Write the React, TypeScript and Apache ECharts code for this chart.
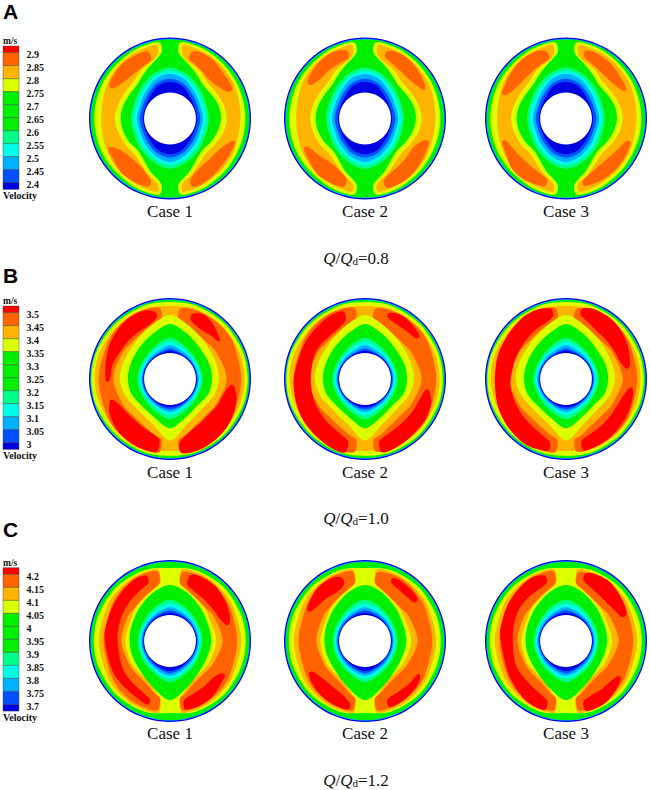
import React, { useEffect, useRef } from 'react';
import * as echarts from 'echarts';

// angle in degrees clockwise from the top, radius in percent of the disc radius
const starAngles = [0, 20, 45, 70, 90, 110, 135, 160, 180, 200, 225, 250, 270, 290, 315, 340];
const hubRadius = 32;
const caseNames = ['Case 1', 'Case 2', 'Case 3'];
const flowRatios = ['0.8', '1.0', '1.2'];
const panelNames = ['A', 'B', 'C'];

const legendTicksA = ['2.9', '2.85', '2.8', '2.75', '2.7', '2.65', '2.6', '2.55', '2.5', '2.45', '2.4'];
const legendTicksB = ['3.5', '3.45', '3.4', '3.35', '3.3', '3.25', '3.2', '3.15', '3.1', '3.05', '3'];
const legendTicksC = ['4.2', '4.15', '4.1', '4.05', '4', '3.95', '3.9', '3.85', '3.8', '3.75', '3.7'];

const DARK = '#0000e0';
const BLUE = '#0050ff';
const SKY = '#00b0ff';
const CYAN = '#00ffe6';
const MINT = '#00ff88';
const GREEN = '#00ee00';
const YELLOW = '#dcff00';
const AMBER = '#ffb400';
const ORANGE = '#ff6400';
const RED = '#ff0000';
const legendColors = [RED, ORANGE, AMBER, YELLOW, '#00f000', GREEN, GREEN, MINT, CYAN, SKY, BLUE, DARK];

// low velocity contours round the hub
const lowA = {
  mint: [63, 59, 52, 48, 48, 48, 52, 58, 62, 58, 52, 48, 48, 48, 52, 59],
  cyan: [59, 55, 48, 44.5, 45, 44.5, 48, 54, 58, 54, 48, 44.5, 45, 44.5, 48, 55],
  sky: [55, 52, 44, 40.5, 41, 40.5, 44, 50, 54, 50, 44, 40.5, 41, 40.5, 44, 52],
  blue: [49, 46.5, 40, 37, 37.5, 37, 40, 45.5, 48, 45.5, 40, 37, 37.5, 37, 40, 46.5],
  dark: [45, 43, 36, 33.5, 33.5, 33.5, 36, 42, 44, 42, 36, 33.5, 33.5, 33.5, 36, 43],
};
const lowB = {
  yellow: [79, 69.5, 62, 60, 60.5, 58, 54, 60, 76, 60, 55, 59, 62, 61, 62, 69.5],
  green: [68, 60, 53, 52, 52, 51, 47, 52, 61, 52, 48, 51, 52, 52, 54, 60],
  mint: [51, 46, 41, 40, 40.5, 40, 41, 45, 50, 45, 41, 40, 40.5, 40, 41, 46],
  cyan: [46, 42, 38.5, 37.5, 38, 37.5, 38, 41, 45, 41, 38, 37.5, 38, 37.5, 38.5, 42],
  sky: [42, 38, 36, 35, 35.5, 35, 36, 38, 41, 38, 36, 35, 35.5, 35, 36, 38],
  blue: [38, 35, 34, 34, 34, 34, 34, 36, 37.5, 36, 34, 34, 34, 34, 34, 35],
  dark: [35, 33.5, 33, 33, 33, 33, 33, 34, 35, 34, 33, 33, 33, 33, 33, 33.5],
};
const lowC = {
  green: [69, 63, 55, 51, 51, 50, 52, 61, 73, 61, 52, 50, 50, 51, 55, 63],
  mint: [51, 47, 42, 40, 40, 40, 42, 46, 51, 46, 42, 40, 40, 40, 42, 47],
  cyan: [46, 43, 39, 37.5, 37.5, 37.5, 39, 43, 46.5, 43, 39, 37.5, 37.5, 37.5, 39, 43],
  sky: [42, 39, 36.5, 35.5, 35.5, 35.5, 37, 40, 43, 40, 37, 35.5, 35.5, 35.5, 36.5, 39],
  blue: [38, 36, 34.5, 34, 34, 34, 35, 37, 40, 37, 35, 34, 34, 34, 34.5, 36],
  dark: [35, 34, 33, 33, 33, 33, 33, 35, 37, 35, 33, 33, 33, 33, 33, 34],
};

// outer edges that run all the way round
const outerYellowB = [95, 96, 96, 96, 96, 96, 96, 96, 95, 96, 96, 97, 97, 97, 96, 96];
const outerAmberB = [90, 92, 92, 92, 92, 92, 92, 91, 89, 91, 92, 92, 93, 93, 92, 92];
const outerYellowC = [90, 93, 94, 93.5, 93.5, 93.5, 94, 93, 89, 93, 94, 94, 94, 94, 94, 93];

// lobes: [angle, inner radius, outer radius]
const yellowRightA = [[7, 83, 93], [10, 78, 96], [20, 70, 95.5], [30, 64, 95], [45, 58, 94], [60, 59, 93.5], [75, 62, 93], [90, 63, 93], [105, 61, 93], [120, 58, 93], [135, 56, 94], [150, 62, 95], [160, 70, 95.5], [170, 78, 96], [173, 83, 93]];
const yellowLeftA = [[353, 83, 93], [350, 78, 96], [340, 70, 95.5], [330, 64, 95], [315, 58, 94], [300, 58, 94], [285, 60, 93.5], [270, 61, 93.5], [255, 60, 93.5], [240, 58, 94], [225, 56, 94], [210, 62, 95], [200, 70, 95.5], [190, 78, 96], [187, 83, 93]];
const amberRightA = [[10, 83, 92], [14, 76, 93], [30, 70, 92], [45, 64, 91], [60, 65, 90], [75, 68, 88], [90, 70, 87], [105, 68, 87], [120, 64, 89], [135, 62, 90], [150, 68, 91], [160, 75, 92], [170, 83, 92]];
const amberLeftA = [[350, 83, 92], [346, 76, 93], [330, 70, 92], [315, 64, 91], [300, 64, 89], [285, 66, 86], [270, 68, 85], [255, 66, 86], [240, 64, 88], [225, 62, 90], [210, 68, 91], [200, 75, 92], [190, 83, 92]];

const orangeA = [
  [
    [[342, 76, 87], [335, 73, 89], [320, 71, 90], [308, 73, 88], [298, 79, 85]],
    [[244, 80, 85], [235, 71, 86], [222, 68, 90], [210, 70, 90], [200, 77, 89], [197, 81, 87]],
    [[18, 77, 86], [24, 74, 90], [35, 70, 90], [46, 68, 87], [56, 71, 86], [65, 78, 85]],
    [[110, 81, 86], [122, 72, 86], [136, 70, 87], [148, 71, 89], [158, 76, 90], [162, 81, 88]],
  ],
  [
    [[345, 78, 87], [335, 75, 91], [322, 74, 90], [310, 74, 87], [302, 78, 84]],
    [[244, 79, 84], [232, 73, 87], [218, 69, 91], [205, 72, 90], [197, 78, 88]],
    [[18, 80, 87], [25, 76, 91], [37, 73, 91], [50, 73, 88], [60, 77, 85], [64, 80, 83]],
    [[110, 78, 84], [120, 70, 86], [133, 70, 89], [145, 72, 91], [157, 75, 91], [163, 80, 89]],
  ],
  [
    [[344, 76, 86], [336, 74, 91], [322, 71, 91], [308, 71, 88], [298, 74, 86], [291, 80, 85]],
    [[250, 79, 84], [240, 75, 86], [228, 73, 91], [217, 73, 92], [205, 75, 90], [197, 79, 87]],
    [[16, 80, 87], [24, 75, 89], [35, 72, 88], [45, 71, 86], [55, 73, 84], [64, 78, 83]],
    [[110, 80, 85], [122, 74, 87], [135, 71, 88], [150, 72, 88], [160, 76, 87], [165, 80, 86]],
  ],
];

const orangeRightB = [[8, 75, 87], [14, 72, 90], [29, 66, 91], [45, 64, 91], [60, 66, 90], [90, 70, 88], [120, 65, 90], [135, 63, 91], [150, 65, 92], [165, 72, 92], [172, 76, 90]];
const orangeLeftB = [[352, 76, 88], [345, 72, 91], [330, 67, 92], [315, 65, 91], [300, 67, 89], [270, 70, 88], [240, 66, 90], [225, 64, 92], [210, 66, 93], [195, 72, 93], [188, 76, 91]];

const redB = [
  [
    [[348, 78, 84], [340, 72, 90], [328, 70, 91], [315, 70, 89], [300, 70, 86], [285, 73, 82], [268, 75, 79]],
    [[250, 75, 79], [240, 69, 86], [225, 67, 91], [210, 68, 93], [197, 71, 93], [190, 76, 91]],
    [[96, 75, 79], [105, 69, 85], [117, 67, 89], [130, 65, 92], [145, 66, 94], [158, 69, 95], [168, 75, 94], [172, 81, 91]],
    [[19, 78, 85], [27, 73, 90], [36, 72, 87], [45, 74, 82], [52, 75, 78]],
  ],
  [
    [[342, 77, 88], [330, 70, 89], [312, 69, 87], [295, 69, 86], [270, 67, 88], [250, 68, 90], [235, 69, 92], [220, 71, 93], [205, 74, 95], [195, 80, 94]],
    [[100, 76, 80], [110, 72, 87], [125, 71, 90], [142, 71, 91], [155, 73, 93], [167, 79, 93]],
    [[20, 81, 87], [30, 78, 91], [40, 78, 89], [52, 81, 86]],
  ],
  [
    [[348, 79, 89], [337, 73, 93], [325, 71, 93], [308, 68, 90], [288, 67, 89], [264, 69, 88], [246, 69, 91], [230, 70, 93], [214, 72, 95], [203, 75, 94], [194, 81, 91]],
    [[13, 81, 89], [22, 75, 93], [35, 70, 93], [47, 69, 91], [60, 69, 87], [72, 70, 83], [80, 75, 79]],
    [[98, 79, 83], [108, 73, 86], [124, 71, 88], [141, 72, 90], [155, 74, 91], [166, 79, 91]],
  ],
];

const amberRightC = [[9, 74, 89], [13, 71, 91], [20, 68, 91], [30, 62, 91], [45, 59, 90], [60, 56, 89], [90, 57, 88], [120, 55, 89], [135, 54, 90], [150, 56, 91], [165, 66, 91], [171, 73, 89]];
const amberLeftC = [[351, 74, 89], [347, 71, 91], [340, 68, 91], [330, 62, 91], [315, 59, 90], [300, 55, 89], [270, 55, 88], [240, 55, 89], [225, 54, 90], [210, 56, 91], [195, 66, 91], [189, 73, 89]];
const orangeRightC = [[10, 72, 86], [17, 67, 88], [30, 62, 89], [45, 60, 87], [60, 62, 85], [90, 65, 83], [120, 60, 85], [135, 58, 87], [150, 60, 88], [163, 67, 88], [170, 72, 87]];
const orangeLeftC = [[350, 73, 87], [342, 67, 89], [330, 63, 89], [315, 60, 87], [300, 60, 84], [270, 60, 82], [240, 58, 84], [225, 58, 87], [210, 60, 88], [197, 67, 88], [190, 72, 87]];

const redC = [
  [
    [[340, 77, 86], [331, 73, 88], [315, 70, 85], [296, 67, 82], [274, 65, 81], [243, 67, 80], [225, 69, 80], [207, 72, 82], [199, 76, 83]],
    [[17, 73, 85], [24, 69, 88], [40, 66, 88], [55, 66, 84], [68, 68, 80], [74, 72, 76]],
    [[122, 75, 80], [130, 70, 82], [142, 70, 86], [155, 71, 88], [167, 76, 87]],
  ],
  [
    [[340, 75, 83], [332, 70, 88], [318, 71, 88], [305, 73, 84], [298, 77, 81]],
    [[240, 75, 80], [230, 70, 84], [216, 69, 87], [205, 71, 88], [197, 76, 88], [193, 80, 86]],
    [[24, 79, 85], [32, 76, 86], [42, 75, 85], [52, 77, 83]],
    [[122, 77, 81], [132, 76, 85], [145, 75, 87], [157, 76, 88], [160, 79, 87]],
  ],
  [
    [[342, 76, 85], [332, 72, 89], [318, 71, 87], [304, 70, 85], [291, 68, 83], [276, 66, 82], [249, 68, 80], [235, 69, 83], [217, 70, 88], [205, 73, 90], [197, 78, 89]],
    [[16, 78, 87], [22, 74, 90], [35, 70, 91], [47, 69, 88], [58, 71, 85], [67, 75, 81]],
    [[124, 77, 82], [134, 74, 86], [145, 74, 90], [155, 74, 91], [164, 78, 90]],
  ],
];

type Contour = { fill: string; circle?: number; star?: number[]; lobe?: number[][] };

const rim: Contour[] = [
  { fill: DARK, circle: 100 },
  { fill: SKY, circle: 98.4 },
  { fill: GREEN, circle: 97.6 },
];
const stars = (fills: [string, number[]][]): Contour[] => fills.map(([fill, star]) => ({ fill, star }));
const lobes = (fill: string, list: number[][][]): Contour[] => list.map((lobe) => ({ fill, lobe }));
const hub: Contour = { fill: '#ffffff', circle: hubRadius };

const contoursA = (c: number): Contour[] => [
  ...rim,
  ...lobes(YELLOW, [yellowRightA, yellowLeftA]),
  ...lobes(AMBER, [amberRightA, amberLeftA]),
  ...lobes(ORANGE, orangeA[c]),
  ...stars([[MINT, lowA.mint], [CYAN, lowA.cyan], [SKY, lowA.sky], [BLUE, lowA.blue], [DARK, lowA.dark]]),
  hub,
];
const contoursB = (c: number): Contour[] => [
  ...rim,
  ...stars([[YELLOW, outerYellowB], [AMBER, outerAmberB]]),
  ...lobes(ORANGE, [orangeRightB, orangeLeftB]),
  ...lobes(RED, redB[c]),
  ...stars([[YELLOW, lowB.yellow], [GREEN, lowB.green], [MINT, lowB.mint], [CYAN, lowB.cyan], [SKY, lowB.sky], [BLUE, lowB.blue], [DARK, lowB.dark]]),
  hub,
];
const contoursC = (c: number): Contour[] => [
  ...rim,
  ...stars([[YELLOW, outerYellowC]]),
  ...lobes(AMBER, [amberRightC, amberLeftC]),
  ...lobes(ORANGE, [orangeRightC, orangeLeftC]),
  ...lobes(RED, redC[c]),
  ...stars([[GREEN, lowC.green], [MINT, lowC.mint], [CYAN, lowC.cyan], [SKY, lowC.sky], [BLUE, lowC.blue], [DARK, lowC.dark]]),
  hub,
];
const rowContours = [contoursA, contoursB, contoursC];

const discX = [170, 365, 566];
const discY = [118.5, 379, 641];
const discR = 81;

// legend layout per row: top of the colour bar
const legendTop = [46, 306, 567.7];
const legendTicks = [legendTicksA, legendTicksB, legendTicksC];
const caseLabelY = [211, 472, 733];
const ratioLabelY = [258, 518, 780];
const panelLabelY = [11, 275, 529];

const makeRender = (contours: Contour[]) => (params: any, api: any) => {
  const item = contours[params.dataIndex];
  if (item.circle !== undefined) {
    const c = api.coord([0, 0]);
    const e = api.coord([item.circle, 0]);
    return {
      type: 'circle',
      shape: { cx: c[0], cy: c[1], r: Math.hypot(e[0] - c[0], e[1] - c[1]) },
      style: { fill: item.fill },
    };
  }
  let points: number[][];
  if (item.star) {
    points = item.star.map((r, i) => api.coord([r, starAngles[i]]));
  } else {
    const rows = item.lobe as number[][];
    points = [
      ...rows.map((row) => api.coord([row[2], row[0]])),
      ...[...rows].reverse().map((row) => api.coord([row[1], row[0]])),
    ];
  }
  return { type: 'polygon', shape: { points, smooth: 0.3 }, style: { fill: item.fill } };
};

const serif = '"Liberation Serif", "Times New Roman", serif';

const App: React.FC = () => {
  const chartRef = useRef<HTMLDivElement>(null);

  useEffect(() => {
    if (!chartRef.current) return;
    const chart = echarts.init(chartRef.current, undefined, { renderer: 'svg' });

    const polar: any[] = [];
    const angleAxis: any[] = [];
    const radiusAxis: any[] = [];
    const series: any[] = [];
    const graphic: any[] = [];

    discY.forEach((cy, row) => {
      discX.forEach((cx, c) => {
        const index = polar.length;
        polar.push({ center: [cx, cy], radius: discR });
        angleAxis.push({ polarIndex: index, type: 'value', min: 0, max: 360, startAngle: 90, show: false });
        radiusAxis.push({ polarIndex: index, type: 'value', min: 0, max: 100, show: false });
        const contours = rowContours[row](c);
        series.push({
          type: 'custom',
          coordinateSystem: 'polar',
          polarIndex: index,
          silent: true,
          clip: false,
          data: contours.map((_, i) => [i]),
          renderItem: makeRender(contours),
        });
        graphic.push({
          type: 'text',
          x: cx,
          y: caseLabelY[row],
          style: { text: caseNames[c], font: `17px ${serif}`, fill: '#111', align: 'center', verticalAlign: 'middle' },
        });
      });

      graphic.push({
        type: 'text',
        x: 3,
        y: panelLabelY[row],
        style: { text: panelNames[row], font: 'bold 21px "Liberation Sans", Arial, sans-serif', fill: '#000', verticalAlign: 'middle' },
      });
      graphic.push({
        type: 'text',
        x: 356,
        y: ratioLabelY[row],
        style: {
          text: `{i|Q}/{i|Q}{s|d}=${flowRatios[row]}`,
          rich: {
            i: { font: `italic 17px ${serif}`, fill: '#111' },
            s: { font: `11px ${serif}`, fill: '#111', verticalAlign: 'bottom' },
          },
          font: `17px ${serif}`,
          fill: '#111',
          align: 'center',
          verticalAlign: 'middle',
        },
      });

      // colour bar
      const top = legendTop[row];
      legendColors.forEach((fill, i) => {
        const y = i === 0 ? top : top + 6.7 + (i - 1) * 13;
        const h = i === 0 || i === legendColors.length - 1 ? 6.7 : 13;
        graphic.push({
          type: 'rect',
          shape: { x: 3, y, width: 16, height: h },
          style: { fill, stroke: '#33403a', lineWidth: 0.4 },
        });
      });
      legendTicks[row].forEach((text, i) => {
        graphic.push({
          type: 'text',
          x: 26.5,
          y: top + 8.8 + i * 13,
          style: { text, font: `bold 10px ${serif}`, fill: '#111', verticalAlign: 'middle' },
        });
      });
      graphic.push({
        type: 'text',
        x: 3,
        y: top - 5,
        style: { text: 'm/s', font: `bold 9.5px ${serif}`, fill: '#111', verticalAlign: 'middle' },
      });
      graphic.push({
        type: 'text',
        x: 3,
        y: top + 149.5,
        style: { text: 'Velocity', font: `bold 10px ${serif}`, fill: '#111', verticalAlign: 'middle' },
      });
    });

    chart.setOption({
      animation: false,
      backgroundColor: '#ffffff',
      polar,
      angleAxis,
      radiusAxis,
      series,
      graphic,
    });

    return () => {
      chart.dispose();
    };
  }, []);

  return <div ref={chartRef} style={{ position: 'fixed', left: 0, top: 0, width: 650, height: 790 }} />;
};

export default App;
